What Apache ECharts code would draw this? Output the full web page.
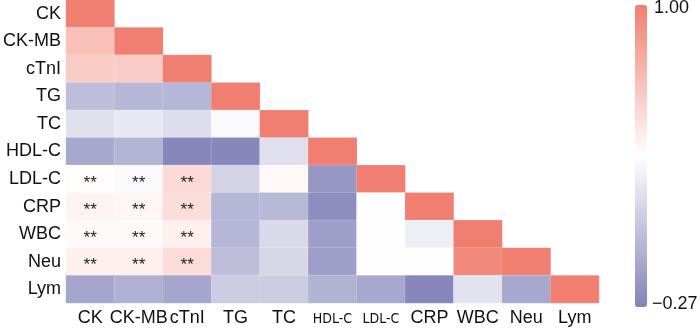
<!DOCTYPE html>
<html><head><meta charset="utf-8">
<script src="https://cdn.jsdelivr.net/npm/echarts@6/dist/echarts.min.js"></script>
<style>html,body{margin:0;padding:0;background:#fff}#c{width:700px;height:328px}</style>
</head><body><div id="c"></div>
<script>
const categories = ['CK','CK-MB','cTnI','TG','TC','HDL-C','LDL-C','CRP','WBC','Neu','Lym'];
// lower-triangular correlation rows (row i has i+1 values)
const rowCK    = [1];
const rowCKMB  = [0.68, 1];
const rowCTNI  = [0.62, 0.62, 1];
const rowTG    = [0.03, -0.01, -0.01, 1];
const rowTC    = [0.21, 0.245, 0.19, 0.34, 1];
const rowHDLC  = [-0.08, -0.02, -0.25, -0.25, 0.2, 1];
const rowLDLC  = [0.38, 0.34, 0.55, 0.14, 0.4, -0.17, 1];
const rowCRP   = [0.42, 0.41, 0.53, -0.01, 0.0, -0.22, 0.36, 1];
const rowWBC   = [0.39, 0.39, 0.44, -0.01, 0.17, -0.13, 0.36, 0.28, 1];
const rowNeu   = [0.44, 0.44, 0.54, 0.03, 0.16, -0.13, 0.37, 0.37, 0.95, 1];
const rowLym   = [-0.09, -0.04, -0.09, 0.1, 0.1, -0.03, -0.08, -0.25, 0.22, -0.08, 1];
const rows = [rowCK,rowCKMB,rowCTNI,rowTG,rowTC,rowHDLC,rowLDLC,rowCRP,rowWBC,rowNeu,rowLym];
// significance marks (**)
const sigRows = ['LDL-C','CRP','WBC','Neu'];
const sigCols = ['CK','CK-MB','cTnI'];
const scaleMin = -0.27, scaleMax = 1.00;
const scaleLabels = ['1.00', '\u22120.27'];

const data = [];
rows.forEach((r, i) => r.forEach((v, j) => {
  const sig = sigRows.includes(categories[i]) && sigCols.includes(categories[j]);
  data.push({value: [j, i, v], sig: sig});
}));

const FONT = 'Liberation Sans, Arial, Helvetica';
const chart = echarts.init(document.getElementById('c'));
chart.setOption({
  animation: false,
  grid: {left: 64, right: 101, top: 0, bottom: 25},
  xAxis: {type: 'category', data: categories, axisLine: {show: false}, axisTick: {show: false},
    splitArea: {show: false},
    axisLabel: {color: '#111', fontSize: 18, fontFamily: FONT, margin: 6, interval: 0,
      formatter: v => (v === 'HDL-C' || v === 'LDL-C') ? '{n|' + v + '}' : v,
      rich: {n: {fontFamily: 'Liberation Sans Narrow, DejaVu Sans Condensed, Arial', fontSize: 14, color: '#111', padding: [3,0,0,0]}}}},
  yAxis: {type: 'category', data: categories, inverse: true, axisLine: {show: false}, axisTick: {show: false},
    axisLabel: {color: '#111', fontSize: 18, fontFamily: FONT, margin: 5, interval: 0}},
  visualMap: {min: scaleMin, max: scaleMax, calculable: false, orient: 'vertical',
    left: 635, top: 5, padding: 0, itemWidth: 12, itemHeight: 302, showLabel: false,
    inRange: {color: ['#8383B9', '#FFFFFF', '#F07F72']}},
  graphic: [
    {type: 'text', left: 654, top: -1, style: {text: scaleLabels[0], fill: '#111', font: '18px ' + FONT}},
    {type: 'text', left: 652, top: 295, style: {text: scaleLabels[1], fill: '#111', font: '18px ' + FONT}}
  ],
  series: [{
    type: 'heatmap', data: data,
    itemStyle: {borderColor: 'rgba(255,255,255,0.35)', borderWidth: 0.5},
    label: {show: true, color: '#222', fontSize: 17, fontFamily: FONT, offset: [0, 4],
      formatter: p => p.data.sig ? '**' : ''},
    emphasis: {disabled: true}
  }]
});
</script></body></html>
